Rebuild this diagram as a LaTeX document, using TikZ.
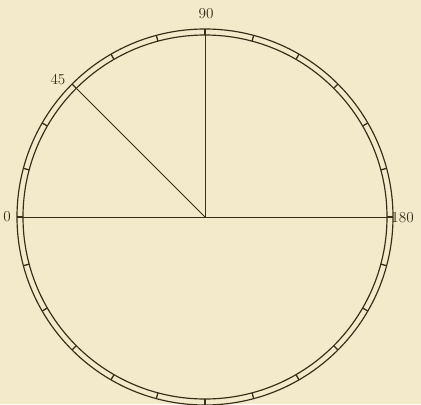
\documentclass[tikz,border=0pt]{standalone}
\usetikzlibrary{calc}
\definecolor{papel}{RGB}{242,234,202}
\definecolor{tinta}{RGB}{55,45,25}
\begin{document}
\begin{tikzpicture}[x=0.3mm, y=0.3mm, color=tinta, line width=0.8pt,
  cifra/.style={font=\fontsize{13}{13}\selectfont, inner sep=0pt}]
  \fill[papel] (-205,-187) rectangle (216,217);
  \useasboundingbox (-205,-187) rectangle (216,217);
  \coordinate (O) at (0,0);
  \coordinate (P0) at (180:182);
  \coordinate (P45) at (135:182);
  \coordinate (P90) at (90:182);
  \coordinate (P180) at (0:182);
  % anillo graduado, una division cada 15 grados
  \draw[line width=1pt] (O) circle[radius=188];
  \draw[line width=1pt] (O) circle[radius=182];
  \foreach \a in {0,15,...,345}
    \draw[line width=1.1pt] (\a:182) -- (\a:188);
  % radios
  \draw (P0) -- (P180);
  \draw (O) -- (P90);
  \draw (O) -- (P45);
  \node[cifra] (l90) at (1,203) {90};
  \node[cifra] (l45) at (-147,137) {45};
  \node[cifra] (l0) at (-198,0) {0};
  \node[cifra, anchor=west] (l180) at (186,-1) {180};
\end{tikzpicture}
\end{document}
